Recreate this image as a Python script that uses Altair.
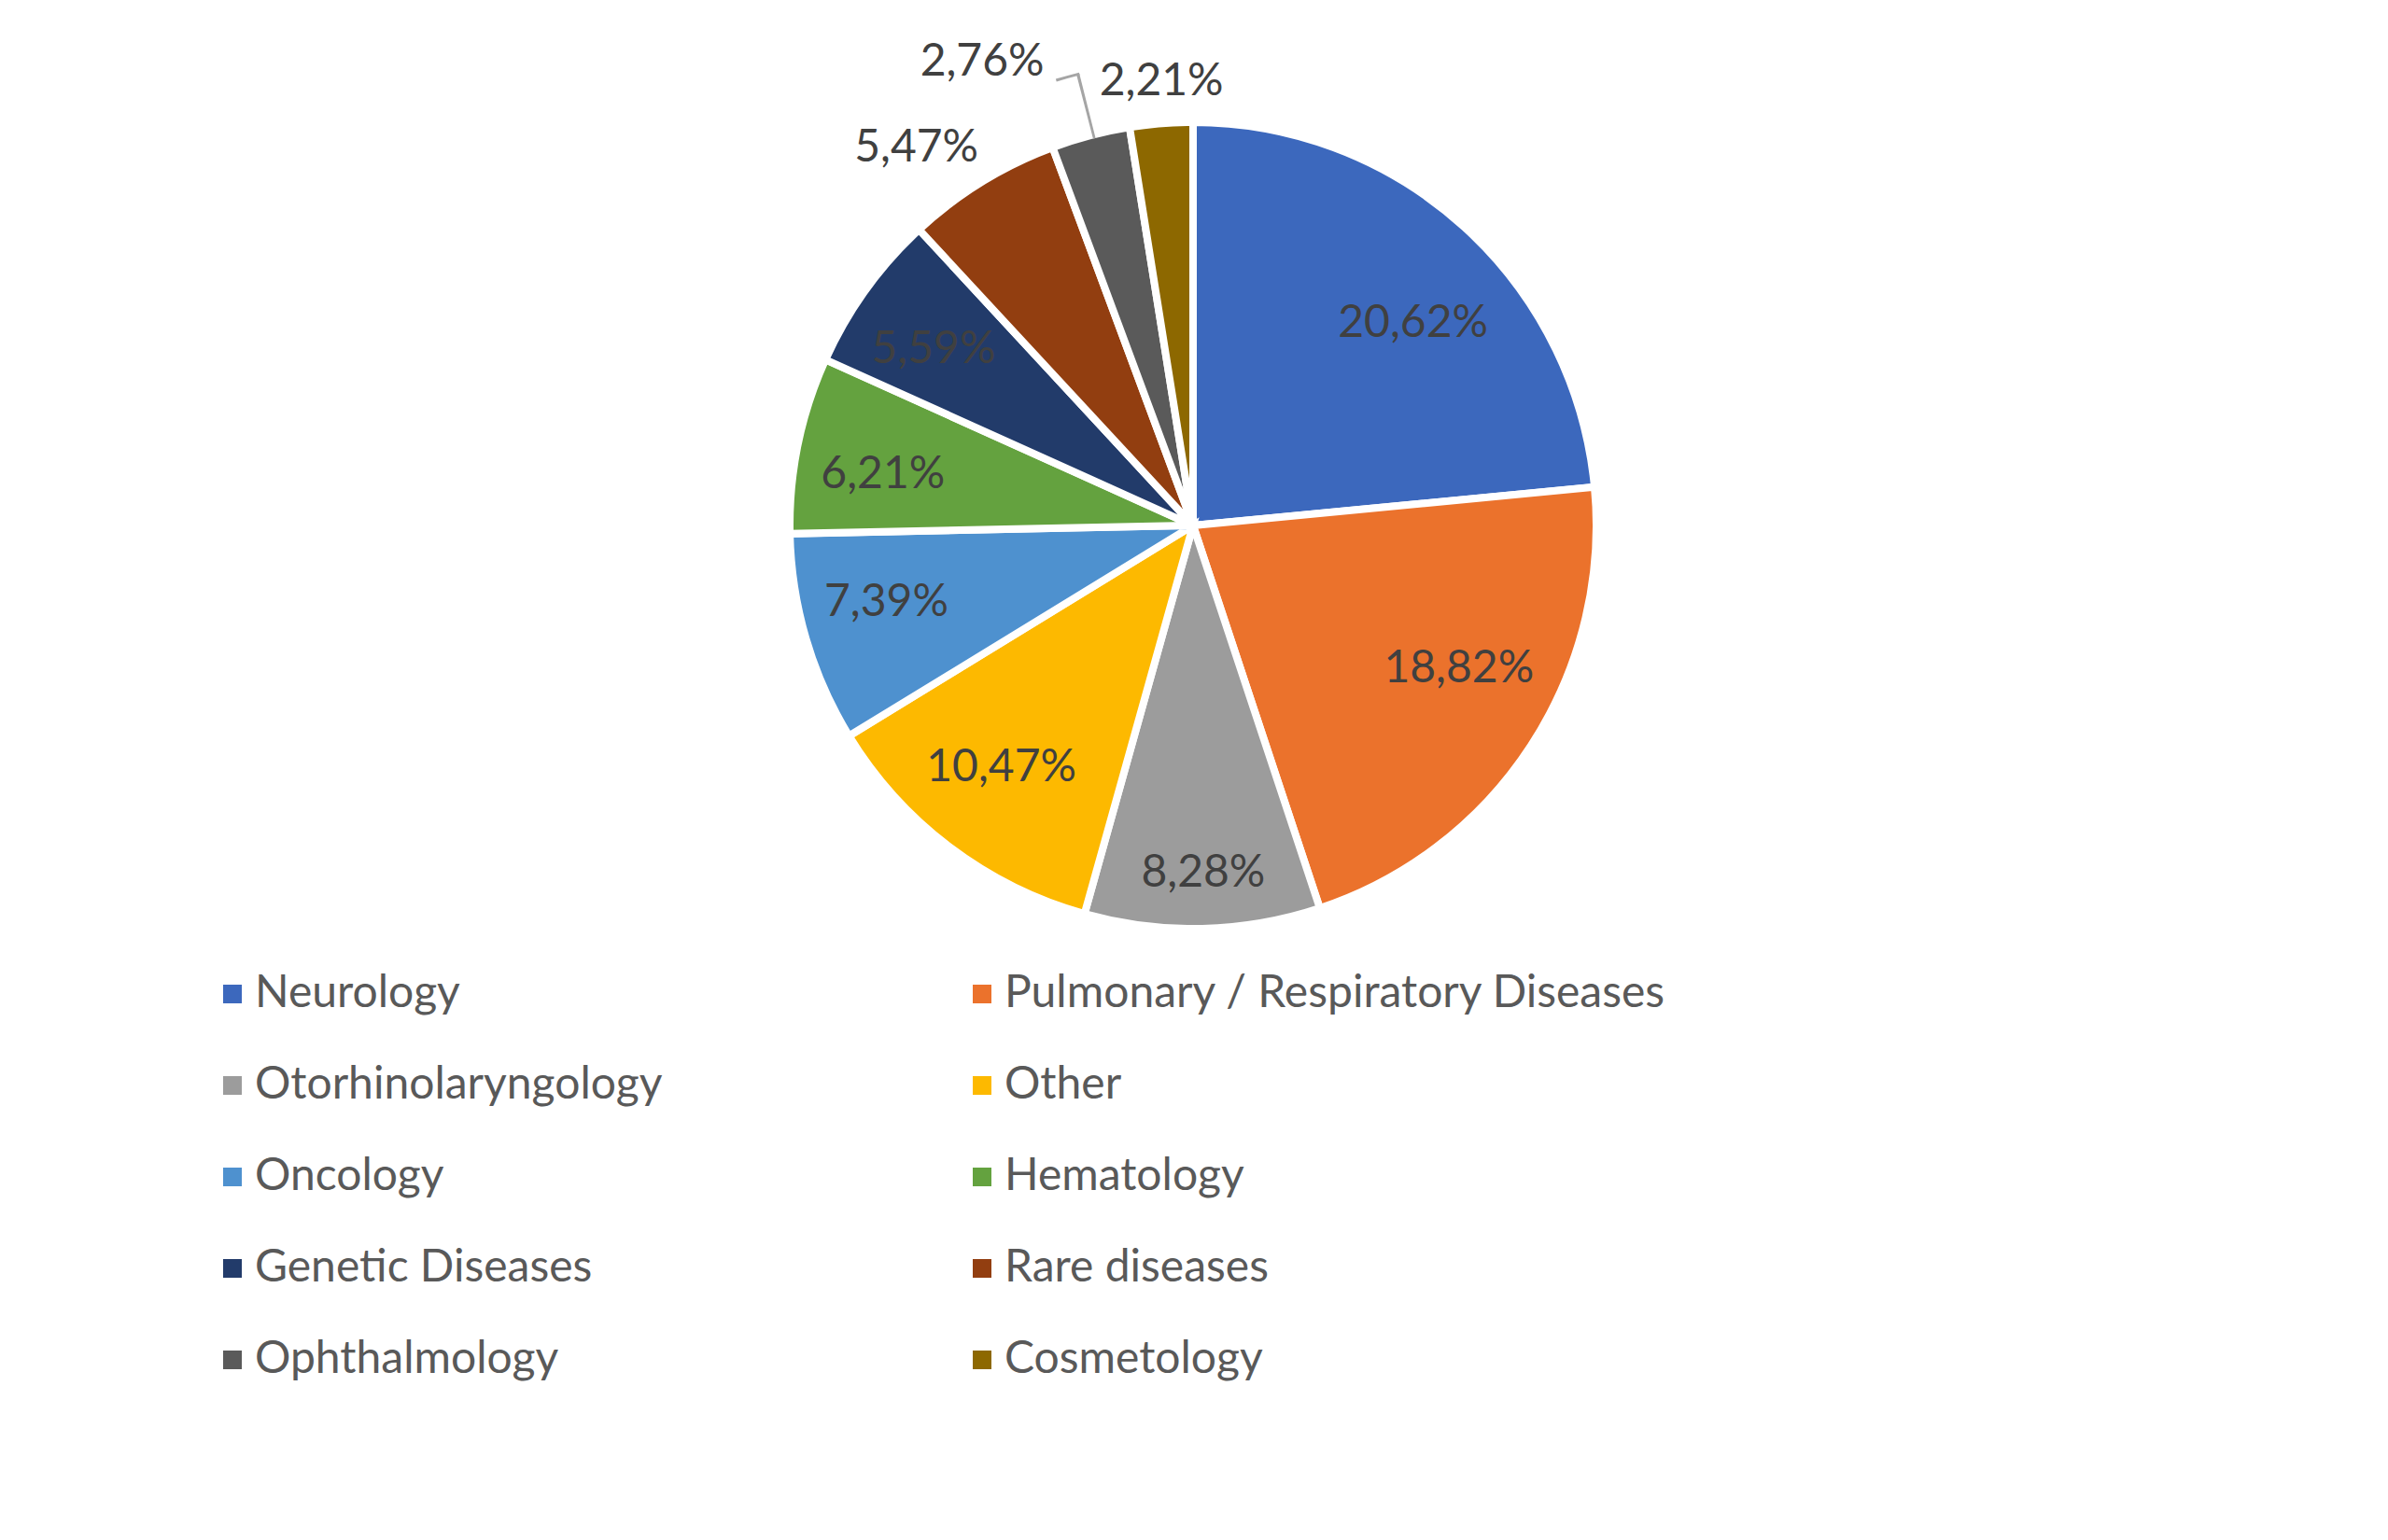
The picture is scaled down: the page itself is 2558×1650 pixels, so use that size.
import math
import altair as alt
import pandas as pd

# ---- data ----
categories = [
    "Neurology",
    "Pulmonary / Respiratory Diseases",
    "Otorhinolaryngology",
    "Other",
    "Oncology",
    "Hematology",
    "Genetic Diseases",
    "Rare diseases",
    "Ophthalmology",
    "Cosmetology",
]
shares = [20.62, 18.82, 8.28, 10.47, 7.39, 6.21, 5.59, 5.47, 2.76, 2.21]
labels = ["20,62%", "18,82%", "8,28%", "10,47%", "7,39%", "6,21%", "5,59%", "5,47%", "2,76%", "2,21%"]
colors = ["#3C68BD", "#EB722C", "#9C9C9C", "#FDB900", "#4E91CF",
          "#64A23F", "#223B6A", "#923E10", "#5A5A5A", "#8D6800"]

df = pd.DataFrame({
    "category": categories,
    "share": shares,
    "label": labels,
    "idx": list(range(len(categories))),
})
total = float(sum(shares))

# ---- style ----
FONT = "Lato"
FS = 48
PIE_R = 432
R_IN = 334
R_OUT = 480
# per-label placement: (radius, dx, dy) relative to the slice mid-angle
label_place = {
    "Neurology": (R_IN, 11, 31),
    "Pulmonary / Respiratory Diseases": (R_IN, 5, -28),
    "Otorhinolaryngology": (R_IN, 3, 39),
    "Other": (R_IN, -4, -6),
    "Oncology": (R_IN, -8, -11),
    "Hematology": (R_IN, -5, 13),
    "Genetic Diseases": (R_IN, -7, 7),
    "Rare diseases": (R_OUT, -45, 5),
    "Ophthalmology": (R_OUT, -104, -32),
    "Cosmetology": (R_OUT, 4, 4),
}

theta_scale = alt.Scale(domain=[0, total], range=[0, 2 * math.pi])
color_scale = alt.Scale(domain=categories, range=colors)

base = alt.Chart(df).transform_window(
    cum="sum(share)", sort=[alt.SortField("idx")], frame=[None, 0]
).transform_calculate(
    start="datum.cum - datum.share",
    mid="datum.cum - datum.share / 2",
)

pie = base.mark_arc(radius=PIE_R, stroke="white", strokeWidth=8).encode(
    theta=alt.Theta("start:Q", scale=theta_scale),
    theta2="cum:Q",
    color=alt.Color(
        "category:N",
        scale=color_scale,
        legend=alt.Legend(
            title=None,
            orient="none",
            direction="horizontal",
            legendX=217,
            legendY=1033,
            columns=2,
            symbolType="square",
            symbolSize=400,
            symbolStrokeWidth=0,
            labelFont=FONT,
            labelFontSize=FS,
            labelColor="#595959",
            labelOffset=0,
            labelLimit=1000,
            columnPadding=318,
            rowPadding=50,
            padding=0,
        ),
    ),
    order=alt.Order("idx:Q"),
)

layers = [pie]

# leader line for the Ophthalmology label
lead = base.transform_filter(alt.datum.category == "Ophthalmology")
leader_radial = lead.transform_calculate(
    a0="datum.mid + 0.055", a1="datum.mid + 0.145"
).mark_arc(innerRadius=428, outerRadius=499, color="#A5A5A5").encode(
    theta=alt.Theta("a0:Q", scale=theta_scale), theta2="a1:Q"
)
leader_flat = lead.transform_calculate(
    a0="datum.mid - 0.58", a1="datum.mid + 0.145"
).mark_arc(innerRadius=497.5, outerRadius=500.5, color="#A5A5A5").encode(
    theta=alt.Theta("a0:Q", scale=theta_scale), theta2="a1:Q"
)
layers += [leader_radial, leader_flat]

for cat in categories:
    r, dx, dy = label_place[cat]
    layers.append(
        base.transform_filter(alt.datum.category == cat)
        .mark_text(radius=r, dx=dx, dy=dy, font=FONT, fontSize=FS, color="#404040")
        .encode(theta=alt.Theta("mid:Q", scale=theta_scale), text="label:N")
    )

chart = alt.layer(*layers).properties(
    width=2540, height=1110, padding=0
).configure_view(stroke=None)

chart.save("out.html", embed_options={"renderer": "svg", "actions": False})
